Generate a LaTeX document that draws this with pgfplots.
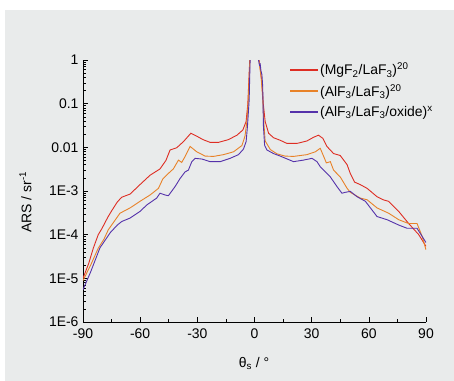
\documentclass[border=0pt]{standalone}
\usepackage{fontspec}
\setmainfont{Liberation Sans}
\usepackage{pgfplots}
\pgfplotsset{compat=1.18}
\definecolor{bg}{RGB}{233,235,235}
\definecolor{cred}{RGB}{222,45,35}
\definecolor{corange}{RGB}{232,130,40}
\definecolor{cpurple}{RGB}{85,50,170}
\begin{document}
\begin{tikzpicture}
\useasboundingbox (0,0) rectangle (454bp,381bp);
\fill[white] (0,0) rectangle (454bp,381bp);
\fill[bg] (5bp,0) rectangle (454bp,371bp);
\begin{axis}[
  at={(83bp,59bp)}, anchor=south west,
  scale only axis, width=343bp, height=262bp,
  xmin=-90, xmax=90, ymin=1e-6, ymax=1,
  ymode=log,
  clip=true, clip mode=individual,
  axis x line*=bottom, axis y line*=left,
  axis line style={line width=0.8pt},
  tick style={black, line width=0.6pt},
  tick align=inside,
  major tick length=5bp, minor tick length=3bp,
  xtick={-90,-60,-30,0,30,60,90},
  xticklabels={-90,-60,-30,0,30,60,90},
  minor x tick num=1,
  ytick={1e-6,1e-5,1e-4,1e-3,1e-2,1e-1,1},
  yticklabels={1E-6,1E-5,1E-4,1E-3,0.01,0.1,1},
  ticklabel style={font=\fontsize{14}{16}\selectfont},
  xticklabel style={yshift=-3bp},
  yticklabel style={xshift=-1bp},
  legend style={at={(0.595,1.005)}, anchor=north west, draw=none, fill=none,
    font=\fontsize{14}{16}\selectfont, row sep=4bp},
  legend cell align=left,
  legend image code/.code={\fill[#1] (0bp,-0.45pt) rectangle (27bp,0.45pt);},
  every axis plot/.append style={line width=0.9pt},
]
\addplot[color=cred, no markers] coordinates {
(-90,1.0e-5) (-87,2.2e-5) (-84.6,4.9e-5) (-82,1.0e-4) (-80,1.4e-4) (-77,2.5e-4)
(-75,3.5e-4) (-72,5.6e-4) (-69.7,7.2e-4) (-65.3,8.5e-4) (-60.1,1.4e-3) (-54.8,2.3e-3)
(-49.6,3.2e-3) (-46.5,5.0e-3) (-44.3,8.7e-3) (-40.8,9.8e-3) (-37.3,1.35e-2) (-33.4,2.1e-2)
(-30.3,1.8e-2) (-27,1.5e-2) (-23.3,1.3e-2) (-18.9,1.3e-2) (-13.7,1.5e-2) (-9.2,1.9e-2)
(-6.1,2.5e-2) (-4.4,3.9e-2) (-3.5,0.1) (-3.0,0.32) (-2.5,1.0) (-2.3,1.6)
(2.0,1.6) (2.3,1.0) (2.6,0.9) (3.0,0.63) (3.9,0.3) (4.6,0.1) (5.6,3.9e-2) (7.4,2.1e-2)
(10,1.66e-2) (13.5,1.45e-2) (17,1.23e-2) (22.3,1.23e-2) (27.5,1.4e-2) (31,1.7e-2)
(33.6,1.9e-2) (35.9,1.6e-2) (38,1.05e-2) (41.5,7.2e-3) (45,6.5e-3) (48.6,4.0e-3)
(50.3,2.5e-3) (52.5,1.6e-3) (55.5,1.4e-3) (59.1,1.15e-3) (64.3,7.4e-4) (67.5,6.3e-4)
(70.4,5.8e-4) (75.7,3.4e-4) (80.9,1.8e-4) (86.2,1.0e-4) (90,5.4e-5)
};
\addlegendentry{(MgF\textsubscript{2}/LaF\textsubscript{3})\textsuperscript{20}}
\addplot[color=corange, no markers] coordinates {
(-90,8.9e-6) (-86,2.0e-5) (-82,4.9e-5) (-79,7.9e-5) (-76.7,1.3e-4) (-73,2.2e-4)
(-70.6,3.1e-4) (-65.3,4.1e-4) (-60.1,5.8e-4) (-54.8,8.1e-4) (-50.4,1.15e-3) (-48.1,1.9e-3)
(-44.3,2.75e-3) (-42.6,3.2e-3) (-39.9,5.1e-3) (-38.2,4.5e-3) (-36.4,6.2e-3) (-33.8,1.05e-2)
(-30.3,7.9e-3) (-25.9,6.3e-3) (-21.5,6.2e-3) (-16.3,6.8e-3) (-11,7.9e-3) (-6.6,1.1e-2)
(-5,1.8e-2) (-4,3.9e-2) (-3.2,0.13) (-2.6,0.63) (-2.3,1.6)
(2.1,1.6) (2.6,0.8) (3.5,0.4) (4.3,0.13) (5,3.2e-2) (5.6,1.4e-2) (8.3,8.9e-3)
(11.8,7.1e-3) (16,6.3e-3) (20.5,6.2e-3) (27.5,6.8e-3) (31.9,7.9e-3) (34.5,9.5e-3)
(36.3,6.2e-3) (37.7,4.4e-3) (39.8,4.7e-3) (41.5,3.0e-3) (45,2.1e-3) (48.6,1.15e-3)
(50.3,9.3e-4) (55.5,6.9e-4) (59.1,6.3e-4) (64.3,4.1e-4) (70.4,3.1e-4) (75.7,2.2e-4)
(80.9,1.8e-4) (85.3,1.8e-4) (88,9.1e-5) (90,4.5e-5)
};
\addlegendentry{(AlF\textsubscript{3}/LaF\textsubscript{3})\textsuperscript{20}}
\addplot[color=cpurple, no markers] coordinates {
(-90,5.5e-6) (-86,1.4e-5) (-81.1,5.0e-5) (-78,7.9e-5) (-75.8,1.1e-4) (-72,1.66e-4)
(-69.7,2.0e-4) (-65.3,2.4e-4) (-60.1,3.4e-4) (-56.5,4.8e-4) (-51.3,6.9e-4) (-49.6,8.9e-4)
(-46.9,8.1e-4) (-45.2,7.8e-4) (-41.7,1.26e-3) (-39,1.95e-3) (-36.4,2.75e-3) (-34.7,3.0e-3)
(-32.9,4.7e-3) (-31.2,5.6e-3) (-27.6,5.4e-3) (-23.3,4.7e-3) (-18,4.7e-3) (-12.8,5.6e-3)
(-8.4,6.8e-3) (-5.8,9.1e-3) (-4.4,1.35e-2) (-3.7,3.0e-2) (-2.8,0.12) (-2.3,1.0) (-2.2,1.6)
(2.0,1.6) (2.1,1.0) (2.6,0.76) (3.0,0.8) (3.4,0.56) (3.9,0.46) (4.3,0.25) (4.7,2.95e-2)
(5.3,1.12e-2) (6.5,8.7e-3) (10,7.2e-3) (13.5,6.3e-3) (20.5,4.7e-3) (25.7,5.1e-3)
(30.2,5.6e-3) (32.8,4.7e-3) (34.5,3.6e-3) (36.3,3.0e-3) (39.8,2.1e-3) (43.3,1.26e-3)
(45.9,8.9e-4) (47.5,9.3e-4) (50.3,9.8e-4) (53.8,7.4e-4) (58.2,5.8e-4) (64.3,2.6e-4)
(69.6,2.2e-4) (75.7,1.66e-4) (80.1,1.4e-4) (85.3,1.4e-4) (90,6.6e-5)
};
\addlegendentry{(AlF\textsubscript{3}/LaF\textsubscript{3}/oxide)\textsuperscript{x}}
\node[rotate=90, font=\fontsize{14}{16}\selectfont] at (axis description cs:-0.168,0.458) {ARS / sr\textsuperscript{-1}};
\node[font=\fontsize{14}{16}\selectfont] at (axis description cs:0.499,-0.158) {θ\textsubscript{s} / °};
\end{axis}
\end{tikzpicture}
\end{document}
